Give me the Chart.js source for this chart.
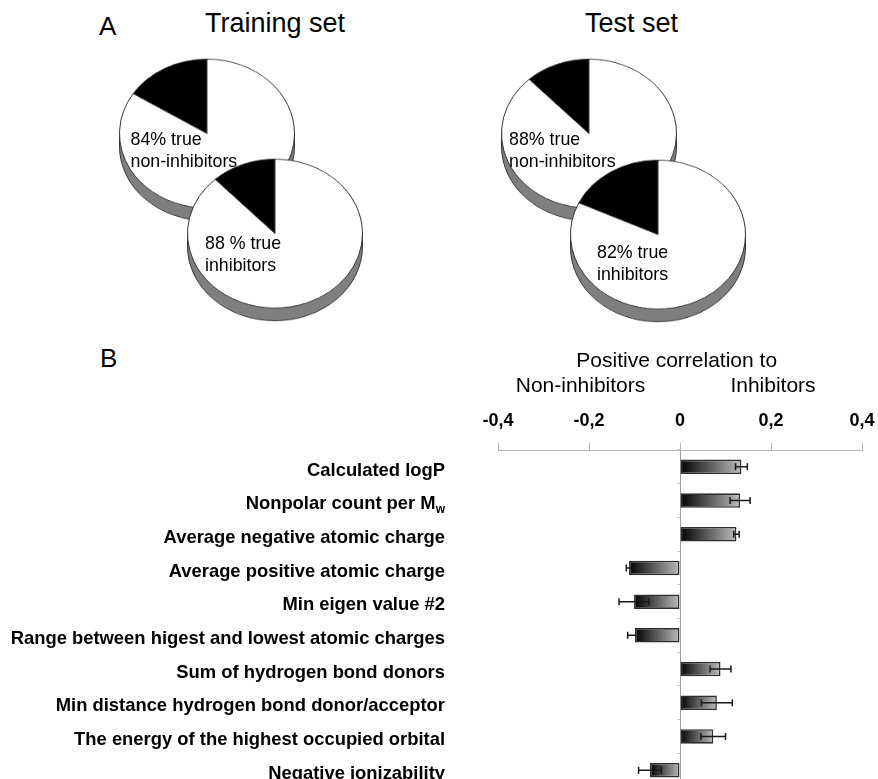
<!DOCTYPE html>
<html>
<head>
<meta charset="utf-8">
<script src="https://cdn.jsdelivr.net/npm/chart.js@4.4.1/dist/chart.umd.min.js"></script>
<style>
body { margin: 0; background: #fff; overflow: hidden; }
#page { position: relative; width: 878px; height: 779px; overflow: hidden; font-family: "Liberation Sans", Arial, sans-serif; color: #000; }
.txt { position: absolute; white-space: nowrap; line-height: 1; }
.panel { font-size: 26px; }
.title { font-size: 27px; }
.pie { position: absolute; transform: scaleY(0.8506); transform-origin: 0 0; }
.pieLabel { position: absolute; font-size: 17.8px; line-height: 22px; white-space: nowrap; }
#barBox { position: absolute; left: 0; top: 330px; }
</style>
</head>
<body>
<div id="page">
    <div class="txt panel" style="left:99px; top:13px;">A</div>
    <div class="txt title" style="left:205px; top:9.5px;">Training set</div>
    <div class="txt title" style="left:585px; top:9.5px;">Test set</div>

    <div class="pie" style="left:116.5px; top:56.8px;"><canvas id="pie0" width="180" height="200"></canvas></div>
    <div class="pie" style="left:184.5px; top:157px;"><canvas id="pie1" width="180" height="200"></canvas></div>
    <div class="pie" style="left:498.5px; top:56.8px;"><canvas id="pie2" width="180" height="200"></canvas></div>
    <div class="pie" style="left:567.8px; top:158px;"><canvas id="pie3" width="180" height="200"></canvas></div>

    <div class="pieLabel" id="lab0" style="left:130.5px; top:128px;"></div>
    <div class="pieLabel" id="lab1" style="left:205px; top:232px;"></div>
    <div class="pieLabel" id="lab2" style="left:509px; top:128px;"></div>
    <div class="pieLabel" id="lab3" style="left:597px; top:240.7px;"></div>

    <div class="txt panel" style="left:100px; top:345.3px;">B</div>

    <div id="barBox"><canvas id="bars" width="878" height="470"></canvas></div>
</div>

<script>
/* Panel A: percent of correctly predicted compounds per pie */
var pieTrue = [84, 88, 88, 82];
var pieGap = ['', ' ', '', ''];
var pieClass = ['non-inhibitors', 'inhibitors', 'non-inhibitors', 'inhibitors'];

/* Panel B: descriptor correlation (negative = non-inhibitors, positive = inhibitors) */
var descriptors = [
    'Calculated logP',
    'Nonpolar count per M_w',
    'Average negative atomic charge',
    'Average positive atomic charge',
    'Min eigen value #2',
    'Range between higest and lowest atomic charges',
    'Sum of hydrogen bond donors',
    'Min distance hydrogen bond donor/acceptor',
    'The energy of the highest occupied orbital',
    'Negative ionizability'
];
var correlation = [0.135, 0.132, 0.124, -0.112, -0.101, -0.099, 0.089, 0.081, 0.073, -0.066];
var correlationErr = [0.013, 0.022, 0.006, 0.006, 0.033, 0.016, 0.023, 0.034, 0.027, 0.025];

var headerTop = 'Positive correlation to';
var headerLeft = 'Non-inhibitors';
var headerRight = 'Inhibitors';

Chart.defaults.font.family = '"Liberation Sans", Arial, sans-serif';
Chart.defaults.color = '#000';

/* grey rim under each pie, drawn before the slices */
var pieDepth = {
    id: 'pieDepth',
    beforeDatasetsDraw: function (chart) {
        var arc = chart.getDatasetMeta(0).data[0];
        if (!arc) return;
        var ctx = chart.ctx, x = arc.x, y = arc.y, r = arc.outerRadius, d = 15;
        ctx.save();
        ctx.beginPath();
        ctx.moveTo(x - r, y);
        ctx.lineTo(x - r, y + d);
        ctx.arc(x, y + d, r, Math.PI, 0, true);
        ctx.lineTo(x + r, y);
        ctx.closePath();
        ctx.fillStyle = '#7f7f7f';
        ctx.fill();
        ctx.strokeStyle = '#333';
        ctx.lineWidth = 1;
        ctx.stroke();
        ctx.restore();
    }
};

var pieCharts = [];
for (var i = 0; i < pieTrue.length; i++) {
    var wrong = 100 - pieTrue[i];
    pieCharts.push(new Chart(document.getElementById('pie' + i), {
        type: 'pie',
        data: {
            labels: ['false', 'true'],
            datasets: [{
                data: [wrong, pieTrue[i]],
                backgroundColor: ['#000', '#fff'],
                borderColor: '#333',
                borderWidth: 1
            }]
        },
        options: {
            responsive: false,
            animation: false,
            rotation: -wrong * 3.6,
            layout: { padding: { left: 2, right: 2, top: 2, bottom: 22 } },
            plugins: { legend: { display: false }, tooltip: { enabled: false } }
        },
        plugins: [pieDepth]
    }));
    document.getElementById('lab' + i).innerHTML =
        pieTrue[i] + pieGap[i] + '% true<br>' + pieClass[i];
}

/* dark-to-light fill along each bar */
var barFill = function (c) {
    if (c.type !== 'data') return '#888';
    var sx = c.chart.scales.x;
    var v = c.raw;
    var a = sx.getPixelForValue(Math.min(0, v));
    var b = sx.getPixelForValue(Math.max(0, v));
    if (!isFinite(a) || !isFinite(b) || a === b) return '#888';
    var g = c.chart.ctx.createLinearGradient(a, 0, b, 0);
    g.addColorStop(0, '#000');
    g.addColorStop(1, '#bdbdbd');
    return g;
};

var errorBars = {
    id: 'errorBars',
    afterDatasetsDraw: function (chart) {
        var ctx = chart.ctx, sx = chart.scales.x;
        chart.getDatasetMeta(0).data.forEach(function (bar, i) {
            var v = correlation[i], e = correlationErr[i];
            var x1 = sx.getPixelForValue(v - e), x2 = sx.getPixelForValue(v + e), y = bar.y;
            ctx.save();
            ctx.strokeStyle = '#1a1a1a';
            ctx.lineWidth = 1.5;
            ctx.beginPath();
            ctx.moveTo(x1, y); ctx.lineTo(x2, y);
            ctx.moveTo(x1, y - 3.5); ctx.lineTo(x1, y + 3.5);
            ctx.moveTo(x2, y - 3.5); ctx.lineTo(x2, y + 3.5);
            ctx.stroke();
            ctx.restore();
        });
    }
};

/* descriptor names on the left (with subscript after "_") and the header */
var barLabels = {
    id: 'barLabels',
    afterDraw: function (chart) {
        var ctx = chart.ctx, sy = chart.scales.y;
        var family = '"Liberation Sans", Arial, sans-serif';
        ctx.save();
        ctx.fillStyle = '#000';
        ctx.textBaseline = 'alphabetic';
        ctx.font = '21px ' + family;
        ctx.textAlign = 'center';
        ctx.fillText(headerTop, 676.7, 36.7);
        ctx.fillText(headerLeft, 580.5, 61.7);
        ctx.fillText(headerRight, 773, 61.7);

        ctx.textAlign = 'left';
        descriptors.forEach(function (name, i) {
            var y = sy.getPixelForValue(i) + 8.7;
            var parts = name.split('_');
            ctx.font = 'bold 18.4px ' + family;
            var wMain = ctx.measureText(parts[0]).width;
            var wSub = 0;
            if (parts[1]) {
                ctx.font = 'bold 12px ' + family;
                wSub = ctx.measureText(parts[1]).width;
            }
            var x0 = 445 - wMain - wSub;
            ctx.font = 'bold 18.4px ' + family;
            ctx.fillText(parts[0], x0, y);
            if (parts[1]) {
                ctx.font = 'bold 12px ' + family;
                ctx.fillText(parts[1], x0 + wMain, y + 4);
            }
        });
        ctx.restore();
    }
};

var barChart = new Chart(document.getElementById('bars'), {
    type: 'bar',
    data: {
        labels: descriptors,
        datasets: [{
            data: correlation,
            backgroundColor: barFill,
            borderColor: '#2e2e2e',
            borderWidth: 1.6,
            borderSkipped: false,
            barPercentage: 0.43,
            categoryPercentage: 1
        }]
    },
    options: {
        indexAxis: 'y',
        responsive: false,
        animation: false,
        layout: { padding: { left: 498, right: 16, top: 0, bottom: 13 } },
        plugins: { legend: { display: false }, tooltip: { enabled: false } },
        scales: {
            x: {
                type: 'linear',
                position: 'top',
                min: -0.4,
                max: 0.4,
                afterFit: function (s) {
                    s.height = 120;
                    s.paddingLeft = 0;
                    s.paddingRight = 0;
                },
                ticks: {
                    stepSize: 0.2,
                    padding: 11,
                    color: '#000',
                    font: { size: 18, weight: 'bold' },
                    callback: function (v) {
                        return Math.abs(v) < 1e-9 ? '0' : v.toFixed(1).replace('.', ',');
                    }
                },
                grid: { drawOnChartArea: false, tickLength: 7, color: '#b5b5b5' },
                border: { color: '#b5b5b5' }
            },
            y: {
                position: { x: 0 },
                ticks: { display: false },
                grid: { drawOnChartArea: false, tickLength: 3, color: '#c8c8c8' },
                border: { color: '#a0a0a0' }
            }
        }
    },
    plugins: [errorBars, barLabels]
});
</script>
</body>
</html>
